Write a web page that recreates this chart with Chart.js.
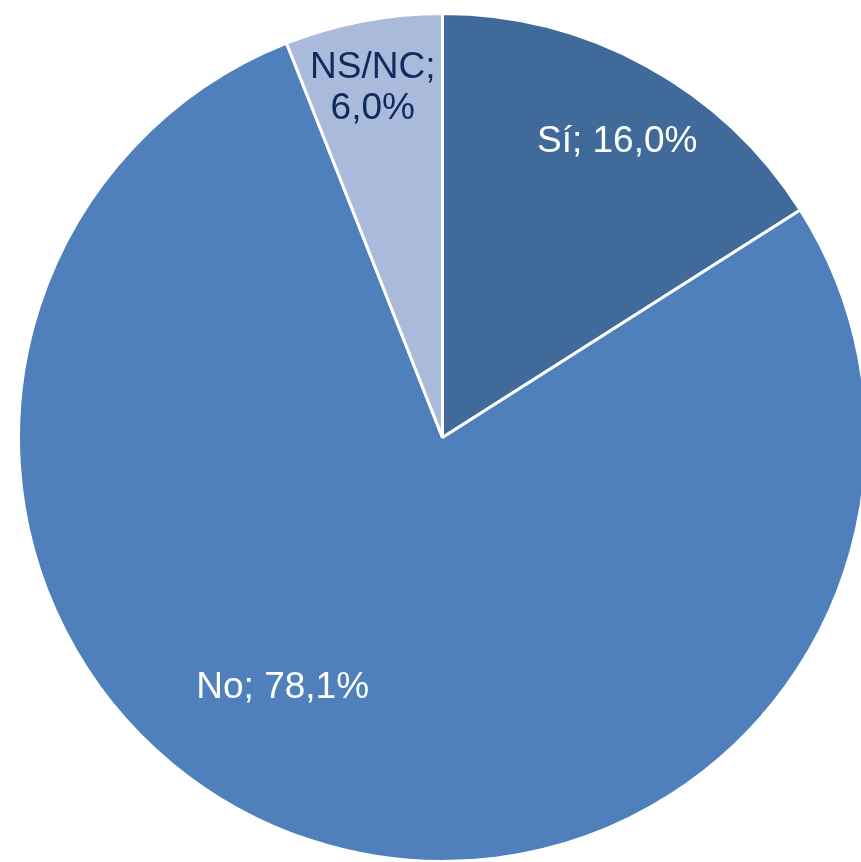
<!DOCTYPE html>
<html>
<head>
<meta charset="utf-8">
<script src="https://cdn.jsdelivr.net/npm/chart.js@4"></script>
<style>
  html, body { margin: 0; padding: 0; background: #fff; overflow: hidden; }
  #wrap { position: absolute; left: 17px; top: 12px; width: 851px; height: 851px; }
</style>
</head>
<body>
<div id="wrap"><canvas id="graficoTarta"></canvas></div>
<script>
// datos
var categorias = ['Sí', 'No', 'NS/NC'];
var valores = [16.0, 78.1, 6.0];
var colores = ['#406A9A', '#4F80BC', '#AABADA'];
var coloresTexto = ['#FFFFFF', '#FFFFFF', '#0E2A5E'];

// colocación de etiquetas (desplazamiento angular en grados, fracción del radio)
var posEtiquetas = [[1.8, 0.81], [14.6, 0.70], [-0.5, 0.84]];

var etiquetasPlugin = {
    id: 'etiquetas',
    afterDatasetsDraw: function (chart) {
        var ctx = chart.ctx;
        var meta = chart.getDatasetMeta(0);
        ctx.save();
        ctx.font = '37px "Liberation Sans", Arial, sans-serif';
        ctx.textAlign = 'center';
        ctx.textBaseline = 'middle';
        meta.data.forEach(function (arc, i) {
            var p = arc.getProps(['x', 'y', 'startAngle', 'endAngle', 'outerRadius'], true);
            var ang = (p.startAngle + p.endAngle) / 2 + posEtiquetas[i][0] * Math.PI / 180;
            var r = p.outerRadius * posEtiquetas[i][1];
            var x = p.x + Math.cos(ang) * r;
            var y = p.y + Math.sin(ang) * r;
            var txt = valores[i].toFixed(1).replace('.', ',') + '%';
            ctx.fillStyle = coloresTexto[i];
            if (i === 2) {
                ctx.fillText(categorias[i] + ';', x, y - 20);
                ctx.fillText(txt, x, y + 21);
            } else {
                ctx.fillText(categorias[i] + '; ' + txt, x, y);
            }
        });
        ctx.restore();
    }
};

var ctxTarta = document.getElementById('graficoTarta').getContext('2d');
new Chart(ctxTarta, {
    type: 'pie',
    data: {
        labels: categorias,
        datasets: [{
            data: valores,
            backgroundColor: colores,
            borderColor: '#FFFFFF',
            borderWidth: 3
        }]
    },
    options: {
        responsive: true,
        maintainAspectRatio: false,
        animation: false,
        layout: { padding: 0 },
        plugins: {
            legend: { display: false },
            tooltip: { enabled: false }
        }
    },
    plugins: [etiquetasPlugin]
});
</script>
</body>
</html>
